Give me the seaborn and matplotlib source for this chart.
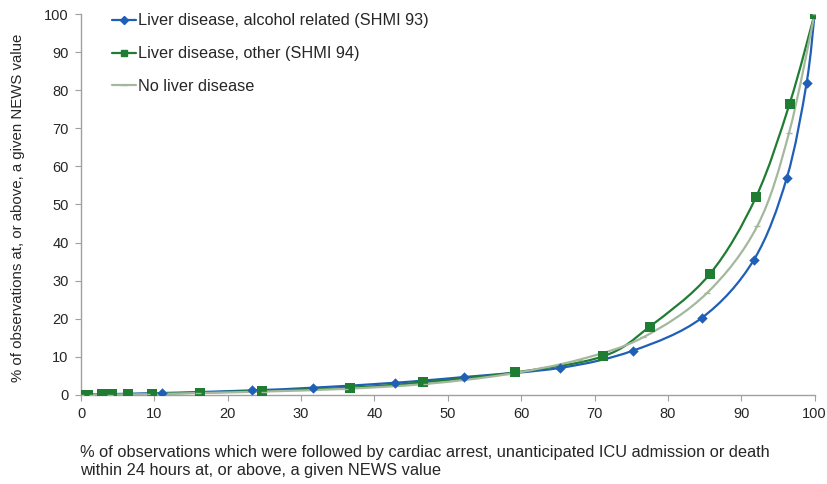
import numpy as np
import pandas as pd
import matplotlib
matplotlib.use("Agg")
import matplotlib.pyplot as plt
import seaborn as sns
from matplotlib.path import Path
from matplotlib.patches import PathPatch
from matplotlib.lines import Line2D

# data
alc_x = [0, 0.5, 11.0, 23.3, 31.6, 42.8, 52.2, 65.3, 75.2, 84.6, 91.7, 96.2, 98.9, 100]
alc_y = [0, 0.1, 0.5, 1.2, 1.9, 3.2, 4.7, 7.1, 11.6, 20.2, 35.4, 56.9, 81.8, 100]

oth_x = [0, 0.3, 1.0, 2.8, 4.2, 6.4, 9.7, 16.2, 24.7, 36.6, 46.6, 59.1, 71.1, 77.5, 85.7, 92.0, 96.6, 100]
oth_y = [0, 0.0, 0.1, 0.2, 0.2, 0.2, 0.3, 0.6, 1.1, 1.9, 3.3, 5.9, 10.1, 17.9, 31.7, 51.9, 76.5, 100]

no_x = [0, 1.5, 4.0, 9.0, 16.0, 25.0, 36.0, 47.0, 58.0, 68.0, 76.6, 85.3, 92.2, 96.5, 100]
no_y = [0, 0.1, 0.1, 0.2, 0.5, 0.9, 1.6, 2.9, 5.4, 9.3, 15.1, 26.7, 44.4, 68.7, 100]

labels = ["Liver disease, alcohol related (SHMI 93)",
          "Liver disease, other (SHMI 94)",
          "No liver disease"]
colors = ["#1f5fb5", "#1e7d32", "#a3b89d"]

df = pd.concat([
    pd.DataFrame({"x": alc_x, "y": alc_y, "series": labels[0]}),
    pd.DataFrame({"x": oth_x, "y": oth_y, "series": labels[1]}),
    pd.DataFrame({"x": no_x, "y": no_y, "series": labels[2]}),
])

sns.set_style("white")
plt.rcParams["font.family"] = ["Liberation Sans", "DejaVu Sans"]

fig = plt.figure(figsize=(8.27, 4.84), dpi=100)
ax = fig.add_axes([0.098, 0.184, 0.887, 0.787])


def smooth_path(xs, ys):
    # Excel-style smoothed line (Catmull-Rom as cubic Bezier)
    pts = np.column_stack([xs, ys]).astype(float)
    verts = [pts[0]]
    codes = [Path.MOVETO]
    n = len(pts)
    for i in range(n - 1):
        p0 = pts[max(i - 1, 0)]
        p1 = pts[i]
        p2 = pts[i + 1]
        p3 = pts[min(i + 2, n - 1)]
        c1 = p1 + (p2 - p0) / 6
        c2 = p2 - (p3 - p1) / 6
        verts += [c1, c2, p2]
        codes += [Path.CURVE4] * 3
    return Path(verts, codes)


series_xy = [(alc_x, alc_y), (oth_x, oth_y), (no_x, no_y)]
for (xs, ys), c in zip(series_xy, colors):
    ax.add_patch(PathPatch(smooth_path(xs, ys), fill=False, edgecolor=c, lw=1.6, zorder=2))

markers = {labels[0]: "D", labels[1]: "s", labels[2]: "_"}
sizes = {labels[0]: 28, labels[1]: 55, labels[2]: 20}
for lab, c in zip(labels, colors):
    sub = df[df.series == lab]
    ax.scatter(sub.x, sub.y, marker=markers[lab], s=sizes[lab], color=c,
               linewidths=1 if lab == labels[2] else 0, zorder=3)

# legend handles
handles = [
    Line2D([], [], color=colors[0], lw=1.6, marker="D", markersize=4),
    Line2D([], [], color=colors[1], lw=1.6, marker="s", markersize=5),
    Line2D([], [], color=colors[2], lw=1.6, marker="_", markersize=4),
]
ax.legend(handles, labels, loc="upper left", bbox_to_anchor=(0.022, 1.04),
          frameon=False, fontsize=11.7, handlelength=1.5, handletextpad=0.1,
          labelspacing=1.1)

ax.set_xlim(0, 100)
ax.set_ylim(0, 100)
ax.set_xticks(range(0, 101, 10))
ax.set_yticks(range(0, 101, 10))
ax.tick_params(axis="both", labelsize=10.5, length=4, color="#a0a0a0",
               direction="out", left=True, bottom=True, pad=5)
for s in ["top", "right"]:
    ax.spines[s].set_visible(False)
for s in ["left", "bottom"]:
    ax.spines[s].set_color("#a0a0a0")
    ax.spines[s].set_linewidth(1)

ax.set_ylabel("% of observations at, or above, a given NEWS value", fontsize=10.8)
ax.yaxis.set_label_coords(-0.077, 0.49)
fig.text(0.097, 0.013,
         "% of observations which were followed by cardiac arrest, unanticipated ICU admission or death\n"
         "within 24 hours at, or above, a given NEWS value",
         fontsize=11.8, ha="left", va="bottom", linespacing=1.22)

fig.savefig("out.png", dpi=100)
